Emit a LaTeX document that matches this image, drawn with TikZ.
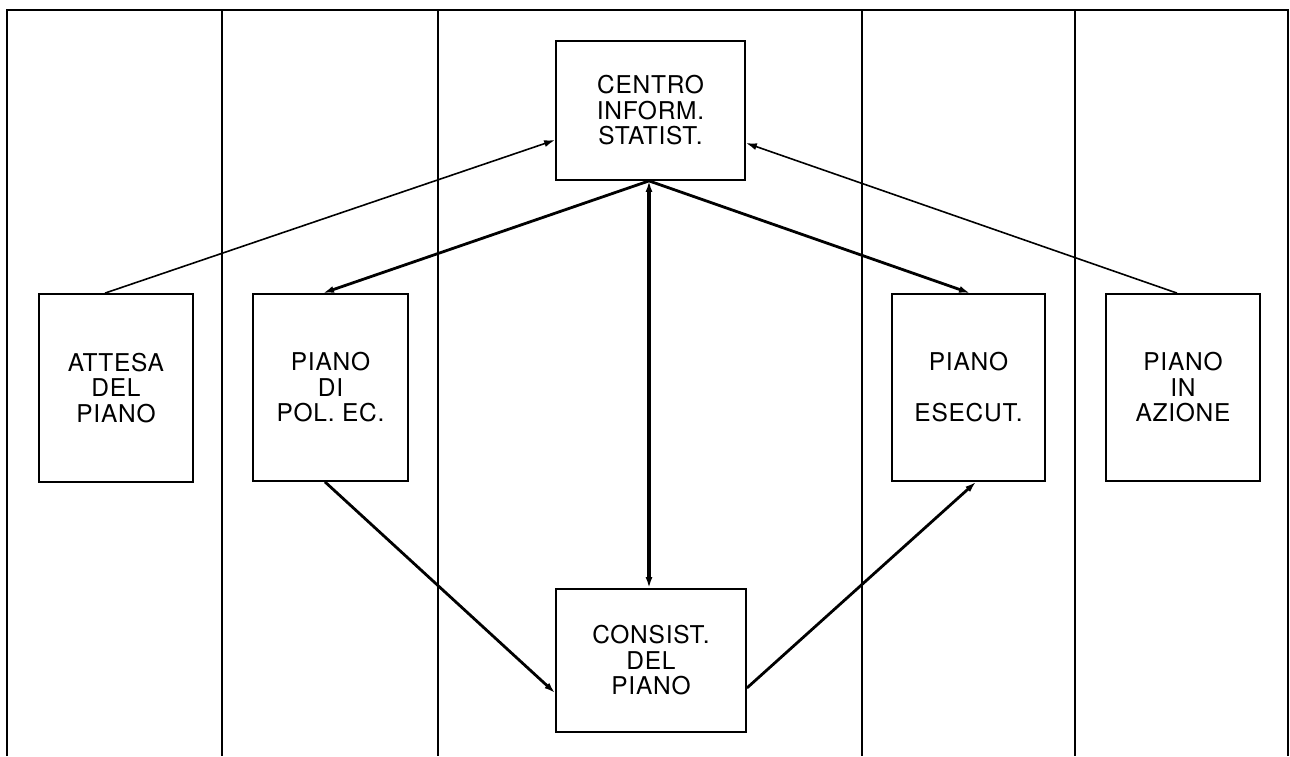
\documentclass[tikz,border=0pt]{standalone}
\usepackage{fontspec}
\newfontfamily\lab{TeX Gyre Heros}[LetterSpace=3]
\usetikzlibrary{calc,arrows.meta}
\tikzset{
  box/.style={draw, line width=1.8pt, align=center, inner sep=0pt,
    font=\lab\fontsize{24.5}{25.5}\selectfont},
  frame/.style={line width=2pt},
  thin/.style={line width=1.6pt},
  thick/.style={line width=2.8pt},
  tip/.style={-{Latex[length=11pt,width=7pt]}},
}
\begin{document}
\begin{tikzpicture}[x=1pt,y=-1pt]
\useasboundingbox (0,0) rectangle (1290,756);
% frame and columns
\draw[frame] (7,756) -- (7,10) -- (1288,10) -- (1288,756);
\foreach \xx in {222,438,862,1075} \draw[frame] (\xx,10) -- (\xx,756);
% boxes
\node[box, minimum width=189pt, minimum height=139pt] (centro) at (650.5,110.5) {CENTRO\\INFORM.\\STATIST.};
\node[box, minimum width=154pt, minimum height=188pt] (attesa) at (116,388) {ATTESA\\DEL\\PIANO};
\node[box, minimum width=155pt, minimum height=187pt] (pol) at (330.5,387.5) {PIANO\\DI\\POL. EC.};
\node[box, minimum width=153pt, minimum height=187pt] (esecut) at (968.5,387.5) {PIANO\\[25.5pt]ESECUT.};
\node[box, minimum width=154pt, minimum height=187pt] (azione) at (1183,387.5) {PIANO\\IN\\AZIONE};
\node[box, minimum width=190pt, minimum height=143pt] (consist) at (651,660.5) {CONSIST.\\DEL\\PIANO};
% connectors
\draw[thin, tip] ($(attesa.north)+(-11,0)$) -- ($(centro.west)+(0,29.5)$);
\draw[thin, tip] ($(azione.north)+(-6,0)$) -- ($(centro.east)+(0,32.5)$);
\draw[thick, tip] ($(centro.south)+(-1.5,0)$) -- ($(pol.north)+(-7.5,0)$);
\draw[thick, tip] ($(centro.south)+(-1.5,0)$) -- ($(esecut.north)+(1.5,0)$);
\draw[line width=3.2pt, {Latex[length=11pt,width=7pt]}-{Latex[length=11pt,width=7pt]}] ($(centro.south)+(-1.5,0)$) -- ($(consist.north)+(-2,0)$);
\draw[thick, tip] ($(pol.south)+(-5.5,0)$) -- ($(consist.west)+(0,32.5)$);
\draw[thick, tip] ($(consist.east)+(0,27.5)$) -- ($(esecut.south)+(7.5,0)$);
\end{tikzpicture}
\end{document}
